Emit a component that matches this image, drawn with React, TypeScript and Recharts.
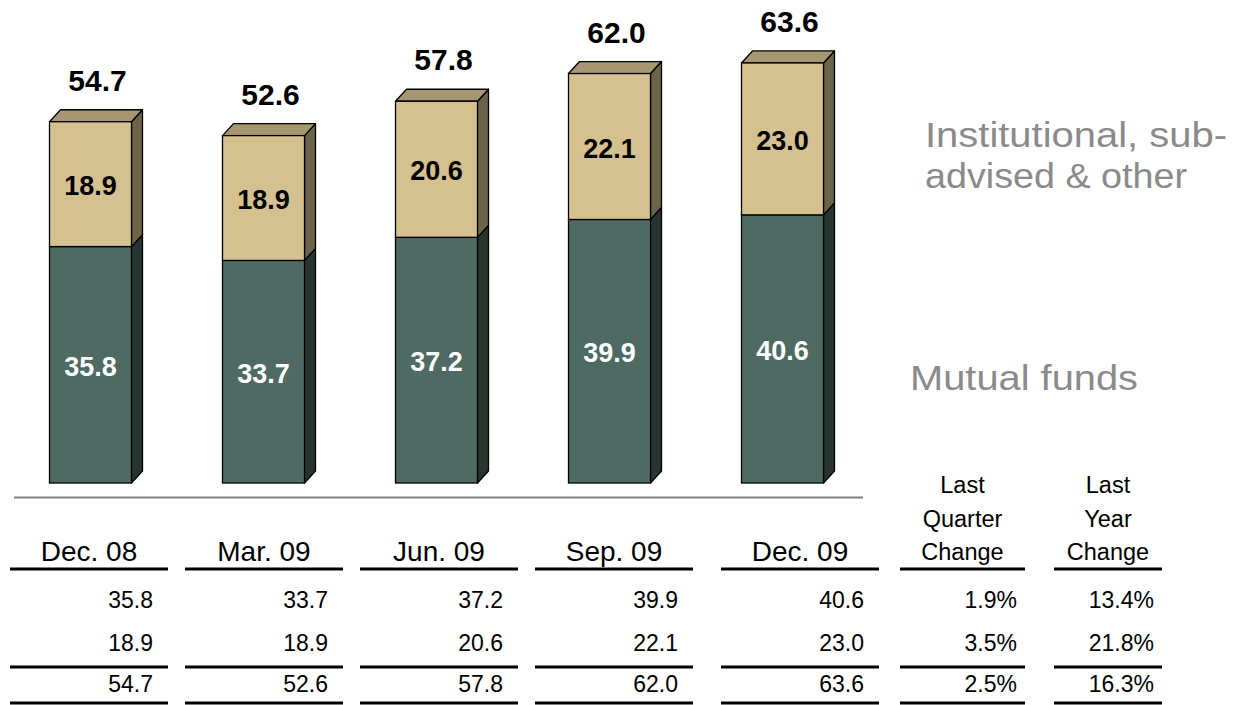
import React from "react";
import { Bar, BarChart, XAxis, YAxis } from "recharts";

const quarters = ["Dec. 08", "Mar. 09", "Jun. 09", "Sep. 09", "Dec. 09"];
const mutualFunds = [35.8, 33.7, 37.2, 39.9, 40.6];
const institutional = [18.9, 18.9, 20.6, 22.1, 23.0];
const totals = [54.7, 52.6, 57.8, 62.0, 63.6];

const changeHeaders = [
  ["Last", "Quarter", "Change"],
  ["Last", "Year", "Change"],
];
const quarterChange = ["1.9%", "3.5%", "2.5%"];
const yearChange = ["13.4%", "21.8%", "16.3%"];

const instLegend = ["Institutional, sub-", "advised & other"];
const mutualLegend = "Mutual funds";

const data = quarters.map((q, i) => ({
  quarter: q,
  mutual: mutualFunds[i],
  inst: institutional[i],
  total: totals[i],
}));

const FONT = "Arial, 'Liberation Sans', Helvetica, sans-serif";
const DX = 11;
const DY = 12;

const GREEN = { front: "#4e6a62", side: "#27352f", top: "#3c5049", label: "#ffffff" };
const BEIGE = { front: "#d5c08f", side: "#6d6349", top: "#a69672", label: "#000000" };

function Segment(props: any) {
  const { x, y, width, height, payload, dataKey, colors, showTop } = props;
  if (width == null || height == null) return null;
  const r = x + width;
  const b = y + height;
  const side = `${r},${y} ${r + DX},${y - DY} ${r + DX},${b - DY} ${r},${b}`;
  const top = `${x},${y} ${x + DX},${y - DY} ${r + DX},${y - DY} ${r},${y}`;
  const val = payload[dataKey] as number;
  return (
    <g>
      <polygon points={side} fill={colors.side} stroke="#000" strokeWidth={1.3} strokeLinejoin="round" />
      {showTop && (
        <polygon points={top} fill={colors.top} stroke="#000" strokeWidth={1.3} strokeLinejoin="round" />
      )}
      <rect x={x} y={y} width={width} height={height} fill={colors.front} stroke="#000" strokeWidth={1.3} />
      <text
        x={x + width / 2}
        y={y + height / 2 + 11}
        textAnchor="middle"
        fontFamily={FONT}
        fontWeight="bold"
        fontSize={27}
        fill={colors.label}
      >
        {val.toFixed(1)}
      </text>
      {showTop && (
        <text
          x={x + width / 2 + 7}
          y={y - 31}
          textAnchor="middle"
          fontFamily={FONT}
          fontWeight="bold"
          fontSize={30}
          fill="#000"
        >
          {(payload.total as number).toFixed(1)}
        </text>
      )}
    </g>
  );
}

// table column spans (left, right)
const dateCols: [number, number][] = [
  [10, 168],
  [185, 343],
  [360, 518],
  [535, 693],
  [721, 879],
];
const changeCols: [number, number][] = [
  [900, 1025],
  [1054, 1162],
];
const rowBaselines = [608, 651, 692];

function Table() {
  const rule = (x1: number, x2: number, y: number, key: string) => (
    <line key={key} x1={x1} x2={x2} y1={y} y2={y} stroke="#000" strokeWidth={3} />
  );
  return (
    <g fontFamily={FONT}>
      {dateCols.map(([l, r], i) => {
        const rows = [mutualFunds[i], institutional[i], totals[i]];
        return (
          <g key={quarters[i]}>
            <text x={(l + r) / 2} y={561} textAnchor="middle" fontSize={28} fill="#000">
              {quarters[i]}
            </text>
            {rule(l, r, 569, "h")}
            {rows.map((v, j) => (
              <text key={j} x={r - 15} y={rowBaselines[j]} textAnchor="end" fontSize={23} fill="#000">
                {v.toFixed(1)}
              </text>
            ))}
            {rule(l, r, 667, "m")}
            {rule(l, r, 703, "b")}
          </g>
        );
      })}
      {changeCols.map(([l, r], i) => {
        const rows = i === 0 ? quarterChange : yearChange;
        return (
          <g key={`c${i}`}>
            {changeHeaders[i].map((t, j) => (
              <text key={t + j} x={(l + r) / 2} y={493 + j * 33.5} textAnchor="middle" fontSize={23.5} fill="#000">
                {t}
              </text>
            ))}
            {rule(l, r, 569, "h")}
            {rows.map((v, j) => (
              <text key={j} x={r - 8} y={rowBaselines[j]} textAnchor="end" fontSize={23} fill="#000">
                {v}
              </text>
            ))}
            {rule(l, r, 667, "m")}
            {rule(l, r, 703, "b")}
          </g>
        );
      })}
    </g>
  );
}

export default function App() {
  return (
    <div style={{ position: "relative", width: 1237, height: 705, background: "#fff" }}>
      <style>{"body{margin:0}"}</style>
      <BarChart
        width={1237}
        height={705}
        data={data}
        margin={{ top: 20.7, right: 368.5, bottom: 222, left: 3.5 }}
      >
        <XAxis dataKey="quarter" hide />
        <YAxis domain={[0, 70]} hide />
        <Bar
          dataKey="mutual"
          stackId="a"
          barSize={82}
          isAnimationActive={false}
          shape={(p: any) => <Segment {...p} dataKey="mutual" colors={GREEN} showTop={false} />}
        />
        <Bar
          dataKey="inst"
          stackId="a"
          barSize={82}
          isAnimationActive={false}
          shape={(p: any) => <Segment {...p} dataKey="inst" colors={BEIGE} showTop />}
        />
      </BarChart>
      <svg
        width={1237}
        height={705}
        style={{ position: "absolute", left: 0, top: 0, pointerEvents: "none" }}
      >
        <line x1={14} x2={863} y1={497.5} y2={497.5} stroke="#808080" strokeWidth={2} />
        <g fontFamily={FONT} fill="#8a8a8a" fontSize={35}>
          {instLegend.map((t, i) => (
            <text key={t} x={925} y={147 + i * 41} textLength={i === 0 ? 302 : 262} lengthAdjust="spacingAndGlyphs">
              {t}
            </text>
          ))}
          <text x={910} y={390} textLength={228} lengthAdjust="spacingAndGlyphs">
            {mutualLegend}
          </text>
        </g>
        <Table />
      </svg>
    </div>
  );
}
